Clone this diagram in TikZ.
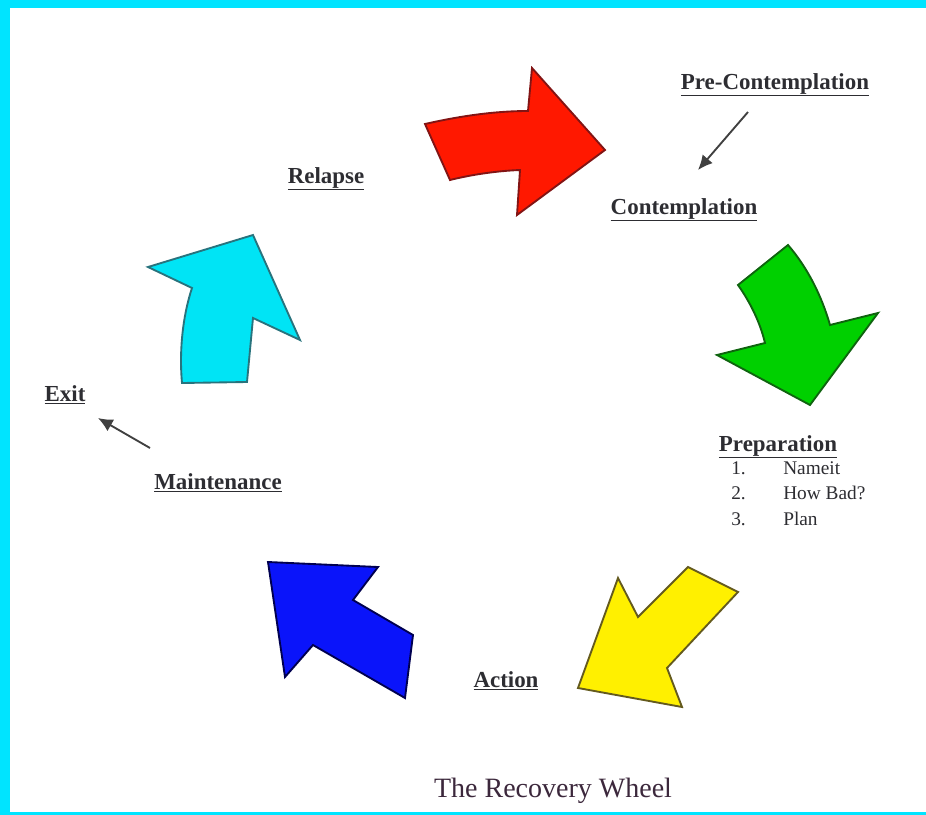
\documentclass[tikz,border=0pt]{standalone}
\usepackage{fontspec}
\setmainfont{Liberation Serif}
\usetikzlibrary{arrows.meta}
\definecolor{frame}{RGB}{0,228,255}
\definecolor{labc}{RGB}{45,45,50}
\definecolor{titc}{RGB}{60,40,60}
\definecolor{redf}{RGB}{255,24,0}\definecolor{redd}{RGB}{130,20,20}
\definecolor{grnf}{RGB}{0,208,0}\definecolor{grnd}{RGB}{15,100,15}
\definecolor{yelf}{RGB}{255,240,0}\definecolor{yeld}{RGB}{100,90,30}
\definecolor{bluf}{RGB}{10,20,250}\definecolor{blud}{RGB}{0,0,80}
\definecolor{cyaf}{RGB}{0,228,245}\definecolor{cyad}{RGB}{40,115,125}
\tikzset{
  bigarrow/.style={line width=1.4pt, line join=miter},
  lab/.style={font=\fontsize{17.2}{20}\selectfont\bfseries, text=labc, inner sep=0pt, anchor=base},
  item/.style={font=\fontsize{14.5}{17}\selectfont, text=labc, inner sep=0pt, anchor=base west},
  conn/.style={draw=black!75, line width=1.4pt, -{Latex[length=11pt,width=10pt]}}
}
\begin{document}
\begin{tikzpicture}[x=0.75pt,y=-0.75pt]
\useasboundingbox (0,0) rectangle (926,815);
\fill[frame] (0,0) rectangle (926,815);
\fill[white] (10,8) rectangle (926,812);
% red arrow
\draw[bigarrow, draw=redd, fill=redf] (425,124) .. controls (460,116) and (495,111) .. (528,111)
  -- (532,68) -- (605,150) -- (517,215) -- (520,170) .. controls (495,171) and (470,175) .. (450,180) -- cycle;
% green arrow
\draw[bigarrow, draw=grnd, fill=grnf] (788,245) -- (738,285) .. controls (750,302) and (760,322) .. (765,343)
  -- (717,355) -- (810,405) -- (878,313) -- (830,325) .. controls (822,297) and (808,268) .. (788,245) -- cycle;
% yellow arrow
\draw[bigarrow, draw=yeld, fill=yelf] (688,567) -- (738,592) -- (667,668) -- (682,707) -- (578,688)
  -- (618,578) -- (638,617) -- cycle;
% blue arrow
\draw[bigarrow, draw=blud, fill=bluf] (268,562) -- (378,567) -- (353,600) -- (413,635) -- (405,698)
  -- (313,645) -- (285,677) -- cycle;
% cyan arrow
\draw[bigarrow, draw=cyad, fill=cyaf] (253,235) -- (300,340) -- (253,318) -- (247,382) -- (182,383)
  .. controls (179,350) and (183,315) .. (192,288) -- (148,267) -- cycle;
% labels
\node[lab] (pre) at (775,89) {\underline{Pre-Contemplation}};
\node[lab] (cont) at (684,214) {\underline{Contemplation}};
\node[lab] (rel) at (326,183) {\underline{Relapse}};
\node[lab] (prep) at (778,451) {\underline{Preparation}};
\node[item] (n1) at (731,474) {1.};
\node[item] (t1) at (783,474) {Nameit};
\node[item] (n2) at (731,499) {2.};
\node[item] (t2) at (783,499) {How Bad?};
\node[item] (n3) at (731,525) {3.};
\node[item] (t3) at (783,525) {Plan};
\node[lab] (act) at (506,687) {\underline{Action}};
\node[lab] (exit) at (65,401) {\underline{Exit}};
\node[lab] (maint) at (218,489) {\underline{Maintenance}};
\node[font=\fontsize{21}{24}\selectfont, text=titc, inner sep=0pt, anchor=base] (title) at (553,797) {The Recovery Wheel};
% connectors
\coordinate (pcA) at (748,112);
\coordinate (pcB) at (698,170);
\coordinate (meA) at (150,448);
\coordinate (meB) at (98,418);
\draw[conn] (pcA) -- (pcB);
\draw[conn] (meA) -- (meB);
\end{tikzpicture}
\end{document}
